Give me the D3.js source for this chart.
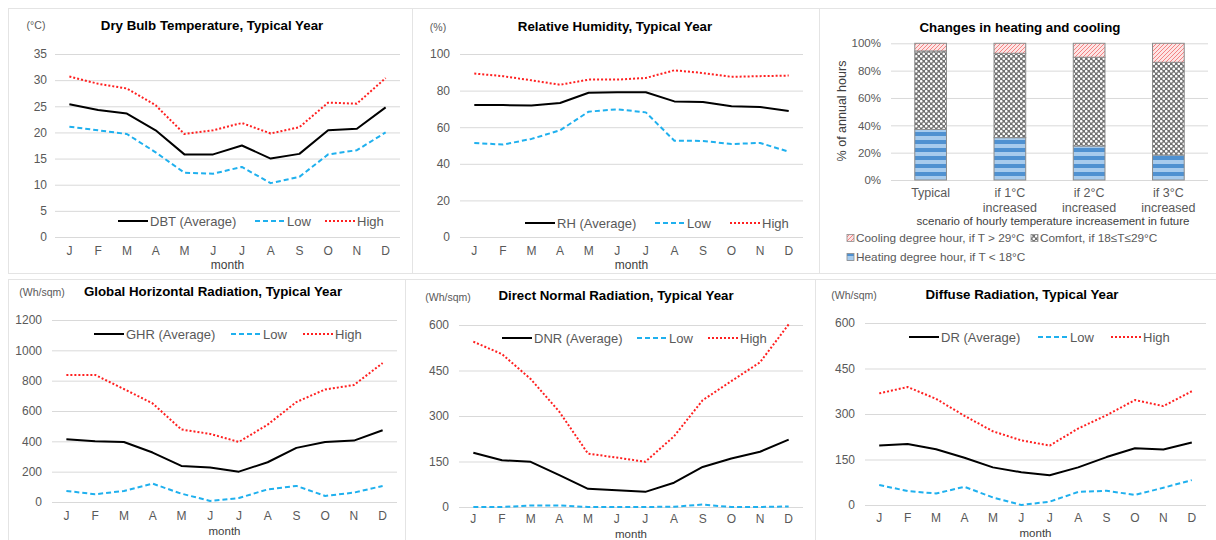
<!DOCTYPE html>
<html>
<head>
<meta charset="utf-8">
<script src="https://cdn.jsdelivr.net/npm/d3@7"></script>
<style>
  html, body { margin: 0; padding: 0; background: #fff; }
  svg { display: block; font-family: "Liberation Sans", Arial, sans-serif; }
</style>
</head>
<body>
<svg id="chart" width="1216" height="540"></svg>
<script>
// ---- data -------------------------------------------------------------
const months = ["J", "F", "M", "A", "M", "J", "J", "A", "S", "O", "N", "D"];

const dbtAvg  = [25.4, 24.3, 23.6, 20.4, 15.8, 15.8, 17.5, 15.0, 15.9, 20.4, 20.7, 24.8];
const dbtLow  = [21.1, 20.4, 19.7, 16.2, 12.3, 12.1, 13.4, 10.3, 11.5, 15.8, 16.6, 20.0];
const dbtHigh = [30.7, 29.3, 28.4, 25.2, 19.7, 20.4, 21.8, 19.8, 21.0, 25.7, 25.5, 30.4];

const rhAvg  = [72.1, 72.1, 71.8, 73.2, 78.8, 79.1, 79.1, 74.1, 73.8, 71.4, 71.0, 68.9];
const rhLow  = [51.4, 50.5, 53.6, 58.3, 68.5, 69.8, 68.1, 52.6, 52.5, 50.8, 51.4, 46.6];
const rhHigh = [89.3, 87.9, 85.6, 83.2, 86.0, 86.0, 86.9, 91.1, 89.6, 87.5, 87.9, 88.2];

const ghrAvg  = [414, 401, 396, 326, 238, 227, 200, 262, 357, 396, 405, 473];
const ghrLow  = [73, 51, 73, 121, 55, 7, 26, 83, 106, 40, 62, 106];
const ghrHigh = [838, 838, 745, 650, 478, 449, 396, 510, 659, 742, 771, 916];

const dnrAvg  = [179, 154, 149, 105, 60, 55, 50, 80, 132, 160, 182, 222];
const dnrLow  = [0, 0, 5, 5, 0, 0, 0, 1, 8, 0, 0, 2];
const dnrHigh = [545, 504, 422, 314, 176, 163, 149, 233, 352, 415, 477, 602];

const drAvg  = [196, 201, 184, 156, 124, 108, 98, 124, 158, 187, 183, 206];
const drLow  = [66, 46, 38, 60, 25, 0, 11, 43, 47, 33, 57, 82];
const drHigh = [368, 389, 350, 294, 243, 213, 196, 252, 296, 346, 326, 375];

const scenarios = [["Typical"], ["if 1°C", "increased"], ["if 2°C", "increased"], ["if 3°C", "increased"]];
const heatingShare = [37.0, 31.0, 24.9, 18.3];
const comfortShare = [57.4, 61.7, 64.9, 67.8];
const coolingShare = [5.6, 7.3, 10.2, 13.9];

const heatLabel = "Heating degree hour, if T < 18°C";
const comfortLabel = "Comfort, if 18≤T≤29°C";
const coolLabel = "Cooling degree hour, if T > 29°C";

// ---- styles -----------------------------------------------------------
const GRID = "#d9d9d9";
const LABEL = "#595959";
const seriesStyle = {
  avg:  { stroke: "#000000", dash: null,  width: 2 },
  low:  { stroke: "#1fb0ee", dash: "5,3", width: 2 },
  high: { stroke: "#ff2020", dash: "2,2", width: 2 }
};

const svg = d3.select("#chart");

// panel frames
const frames = [
  [8, 8, 404, 265], [412, 8, 407, 265], [819, 8, 400, 265],
  [8, 279, 397, 265], [405, 279, 410, 265], [815, 279, 404, 265]
];
svg.selectAll("rect.frame").data(frames).join("rect")
  .attr("class", "frame")
  .attr("x", d => d[0] + 0.5).attr("y", d => d[1] + 0.5)
  .attr("width", d => d[2]).attr("height", d => d[3])
  .attr("fill", "none").attr("stroke", "#e4e4e4");

// ---- monthly line panels ---------------------------------------------
function lineChart(cfg) {
  const g = svg.append("g");
  const x = d3.scaleBand().domain(d3.range(12)).range([cfg.x0, cfg.x1]);
  const y = d3.scaleLinear().domain([0, cfg.max]).range([cfg.yb, cfg.yt]);

  const yAxis = d3.axisLeft(y)
    .tickValues(d3.range(0, cfg.max + 1e-9, cfg.step))
    .tickFormat(d3.format("d"))
    .tickSize(-(cfg.x1 - cfg.x0))
    .tickPadding(cfg.yPad);
  const ya = g.append("g").attr("transform", `translate(${cfg.x0},0)`).call(yAxis);
  ya.select(".domain").remove();
  ya.selectAll(".tick line").attr("stroke", GRID);
  ya.selectAll(".tick text").attr("fill", LABEL).attr("font-size", 12)
    .attr("font-family", "Liberation Sans, Arial, sans-serif");

  const xAxis = d3.axisBottom(x).tickFormat(i => months[i]).tickSize(0).tickPadding(cfg.xPad);
  const xa = g.append("g").attr("transform", `translate(0,${cfg.yb})`).call(xAxis);
  xa.select(".domain").remove();
  xa.selectAll(".tick text").attr("fill", LABEL).attr("font-size", 12)
    .attr("font-family", "Liberation Sans, Arial, sans-serif");

  g.append("text").attr("x", (cfg.x0 + cfg.x1) / 2).attr("y", cfg.monthY)
    .attr("text-anchor", "middle").attr("dominant-baseline", "central")
    .attr("font-size", cfg.monthSize).attr("fill", "#404040").text("month");

  g.append("text").attr("x", cfg.titleX).attr("y", cfg.titleY)
    .attr("text-anchor", "middle").attr("dominant-baseline", "central")
    .attr("font-size", 13.3).attr("font-weight", "bold").attr("fill", "#000").text(cfg.title);

  g.append("text").attr("x", cfg.unitX).attr("y", cfg.unitY)
    .attr("text-anchor", "middle").attr("dominant-baseline", "central")
    .attr("font-size", 10.5).attr("fill", LABEL).text(cfg.unit);

  const line = d3.line().x((d, i) => x(i) + x.bandwidth() / 2).y(d => y(d));
  const series = [
    { key: "low", values: cfg.low, name: "Low" },
    { key: "high", values: cfg.high, name: "High" },
    { key: "avg", values: cfg.avg, name: cfg.avgName }
  ];
  series.forEach(s => {
    const st = seriesStyle[s.key];
    g.append("path").datum(s.values).attr("d", line)
      .attr("fill", "none").attr("stroke", st.stroke).attr("stroke-width", st.width)
      .attr("stroke-dasharray", st.dash).attr("stroke-linejoin", "round");
  });

  // legend
  const legendOrder = [series[2], series[0], series[1]];
  legendOrder.forEach((s, k) => {
    const st = seriesStyle[s.key];
    const lx = cfg.legendX[k];
    g.append("line").attr("x1", lx).attr("x2", lx + 30)
      .attr("y1", cfg.legendY).attr("y2", cfg.legendY)
      .attr("stroke", st.stroke).attr("stroke-width", st.width).attr("stroke-dasharray", st.dash);
    g.append("text").attr("x", lx + 32).attr("y", cfg.legendY)
      .attr("dominant-baseline", "central").attr("font-size", 13).attr("fill", LABEL).text(s.name);
  });
}

lineChart({
  title: "Dry Bulb Temperature, Typical Year", unit: "(°C)", avgName: "DBT (Average)",
  avg: dbtAvg, low: dbtLow, high: dbtHigh, max: 35, step: 5,
  x0: 55, x1: 400, yb: 237, yt: 54, yPad: 8, xPad: 9,
  titleX: 212, titleY: 25, unitX: 36, unitY: 25, monthY: 265, monthSize: 12,
  legendX: [118, 255, 325], legendY: 221
});

lineChart({
  title: "Relative Humidity, Typical Year", unit: "(%)", avgName: "RH (Average)",
  avg: rhAvg, low: rhLow, high: rhHigh, max: 100, step: 20,
  x0: 460, x1: 803, yb: 237, yt: 54, yPad: 10, xPad: 9,
  titleX: 615, titleY: 26, unitX: 438, unitY: 27, monthY: 265, monthSize: 12,
  legendX: [525, 655, 730], legendY: 223
});

lineChart({
  title: "Global Horizontal Radiation, Typical Year", unit: "(Wh/sqm)", avgName: "GHR (Average)",
  avg: ghrAvg, low: ghrLow, high: ghrHigh, max: 1200, step: 200,
  x0: 52, x1: 397, yb: 502, yt: 320, yPad: 10, xPad: 9,
  titleX: 213, titleY: 291, unitX: 42, unitY: 292, monthY: 531, monthSize: 11.5,
  legendX: [94, 231, 303], legendY: 334
});

lineChart({
  title: "Direct Normal Radiation, Typical Year", unit: "(Wh/sqm)", avgName: "DNR (Average)",
  avg: dnrAvg, low: dnrLow, high: dnrHigh, max: 600, step: 150,
  x0: 459, x1: 803, yb: 507, yt: 325, yPad: 10, xPad: 7.5,
  titleX: 616, titleY: 295, unitX: 448, unitY: 297, monthY: 533.5, monthSize: 11.5,
  legendX: [502, 637, 708], legendY: 338
});

lineChart({
  title: "Diffuse Radiation, Typical Year", unit: "(Wh/sqm)", avgName: "DR (Average)",
  avg: drAvg, low: drLow, high: drHigh, max: 600, step: 150,
  x0: 865, x1: 1206, yb: 505, yt: 323, yPad: 10, xPad: 8,
  titleX: 1022, titleY: 294, unitX: 854, unitY: 295, monthY: 532.5, monthSize: 11.5,
  legendX: [909, 1038, 1111], legendY: 337
});

// ---- stacked bar panel -------------------------------------------------
const defs = svg.append("defs");

const pHeat = defs.append("pattern").attr("id", "pat-heat").attr("patternUnits", "userSpaceOnUse")
  .attr("width", 8).attr("height", 8);
pHeat.append("rect").attr("width", 8).attr("height", 8).attr("fill", "#a7cbed");
pHeat.append("rect").attr("y", 4).attr("width", 8).attr("height", 4).attr("fill", "#4f91d1");

const pComfort = defs.append("pattern").attr("id", "pat-comfort").attr("patternUnits", "userSpaceOnUse")
  .attr("width", 5).attr("height", 5);
pComfort.append("rect").attr("width", 5).attr("height", 5).attr("fill", "#707070");
pComfort.append("circle").attr("cx", 1.25).attr("cy", 1.25).attr("r", 1.3).attr("fill", "#fff");
pComfort.append("circle").attr("cx", 3.75).attr("cy", 3.75).attr("r", 1.3).attr("fill", "#fff");

const pCool = defs.append("pattern").attr("id", "pat-cool").attr("patternUnits", "userSpaceOnUse")
  .attr("width", 4).attr("height", 4);
pCool.append("rect").attr("width", 4).attr("height", 4).attr("fill", "#fde4e4");
pCool.append("path").attr("d", "M0,4 L4,0 M-1,1 L1,-1 M3,5 L5,3")
  .attr("stroke", "#f06b6b").attr("stroke-width", 0.8);

const stackKeys = ["heat", "comfort", "cool"];
const fills = { heat: "url(#pat-heat)", comfort: "url(#pat-comfort)", cool: "url(#pat-cool)" };
const barRows = scenarios.map((s, i) => ({
  idx: i, heat: heatingShare[i], comfort: comfortShare[i], cool: coolingShare[i]
}));
const stacked = d3.stack().keys(stackKeys)(barRows);

const bx = d3.scaleBand().domain(d3.range(scenarios.length)).range([891, 1208]).paddingInner(0.6).paddingOuter(0.3);
const by = d3.scaleLinear().domain([0, 100]).range([180, 43.3]);

const bg = svg.append("g");
const byAxis = d3.axisLeft(by).tickValues(d3.range(0, 101, 20)).tickFormat(d => d + "%")
  .tickSize(-(1208 - 891)).tickPadding(10);
const bya = bg.append("g").attr("transform", "translate(891,0)").call(byAxis);
bya.select(".domain").remove();
bya.selectAll(".tick line").attr("stroke", GRID);
bya.selectAll(".tick text").attr("fill", LABEL).attr("font-size", 11.5)
  .attr("font-family", "Liberation Sans, Arial, sans-serif");

bg.selectAll("g.layer").data(stacked).join("g").attr("class", "layer")
  .attr("fill", d => fills[d.key])
  .selectAll("rect").data(d => d).join("rect")
  .attr("x", d => bx(d.data.idx)).attr("width", bx.bandwidth())
  .attr("y", d => by(d[1])).attr("height", d => by(d[0]) - by(d[1]))
  .attr("stroke", "#8c8c8c").attr("stroke-width", 1);

// category labels
scenarios.forEach((lines, i) => {
  const t = bg.append("text").attr("x", bx(i) + bx.bandwidth() / 2).attr("y", 193)
    .attr("text-anchor", "middle").attr("font-size", 12.5).attr("fill", LABEL)
    .attr("dominant-baseline", "central");
  lines.forEach((ln, k) => t.append("tspan").attr("x", bx(i) + bx.bandwidth() / 2)
    .attr("dy", k === 0 ? 0 : 14.5).text(ln));
});

bg.append("text").attr("x", 1053).attr("y", 221).attr("text-anchor", "middle")
  .attr("dominant-baseline", "central").attr("font-size", 11.5).attr("fill", "#404040")
  .text("scenario of hourly temperature increasement in future");

bg.append("text").attr("transform", "translate(842,111) rotate(-90)")
  .attr("text-anchor", "middle").attr("dominant-baseline", "central")
  .attr("font-size", 12.5).attr("fill", "#404040").text("% of annual hours");

bg.append("text").attr("x", 1020).attr("y", 27).attr("text-anchor", "middle")
  .attr("dominant-baseline", "central").attr("font-size", 13.3).attr("font-weight", "bold")
  .attr("fill", "#000").text("Changes in heating and cooling");

// legend
const barLegend = [
  { key: "cool", label: coolLabel, x: 847, y: 238 },
  { key: "comfort", label: comfortLabel, x: 1031, y: 238 },
  { key: "heat", label: heatLabel, x: 847, y: 257 }
];
barLegend.forEach(d => {
  bg.append("rect").attr("x", d.x).attr("y", d.y - 3.5).attr("width", 7).attr("height", 7)
    .attr("fill", fills[d.key]).attr("stroke", "#8c8c8c").attr("stroke-width", 0.8);
  bg.append("text").attr("x", d.x + 9).attr("y", d.y).attr("dominant-baseline", "central")
    .attr("font-size", 11.8).attr("fill", LABEL).text(d.label);
});
</script>
</body>
</html>
